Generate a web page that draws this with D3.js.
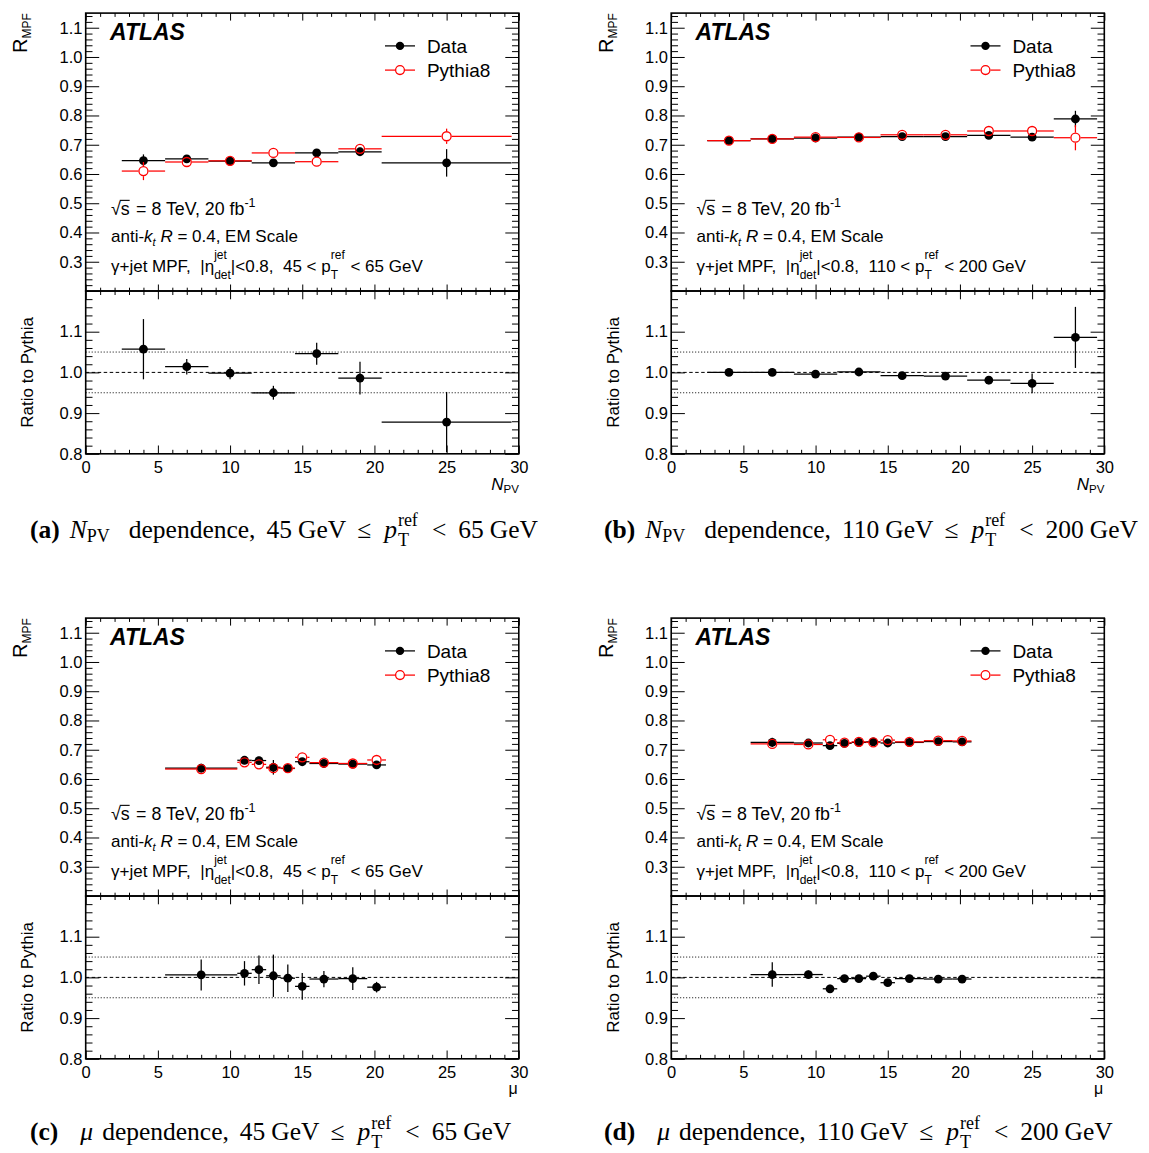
<!DOCTYPE html>
<html><head><meta charset="utf-8">
<script src="https://cdn.jsdelivr.net/npm/d3@7"></script>
<style>html,body{margin:0;padding:0;background:#fff;} svg{display:block;}</style>
</head><body>
<svg id="chart" width="1149" height="1153"></svg>
<script>
// ================= DATA =================
// Panel (a): N_PV dependence, 45 <= pT < 65 GeV
const npvCentersA = [4, 7, 10, 13, 16, 19, 25];
const npvLowA     = [2.5, 5.5, 8.5, 11.5, 14.5, 17.5, 20.5];
const npvHighA    = [5.5, 8.5, 11.5, 14.5, 17.5, 20.5, 29.5];
const dataA       = [0.646, 0.652, 0.644, 0.638, 0.672, 0.676, 0.638];
const dataErrA    = [0.021, 0.007, 0.006, 0.006, 0.007, 0.014, 0.047];
const mcA         = [0.610, 0.641, 0.645, 0.672, 0.642, 0.686, 0.729];
const mcErrA      = [0.031, 0.005, 0.004, 0.005, 0.005, 0.007, 0.026];
const ratioA      = [1.057, 1.014, 0.998, 0.950, 1.046, 0.986, 0.878];
const ratioErrA   = [0.074, 0.019, 0.015, 0.017, 0.027, 0.040, 0.074];

// Panel (b): N_PV dependence, 110 <= pT < 200 GeV
const npvCentersB = [4, 7, 10, 13, 16, 19, 22, 25, 28];
const npvLowB     = [2.5, 5.5, 8.5, 11.5, 14.5, 17.5, 20.5, 23.5, 26.5];
const npvHighB    = [5.5, 8.5, 11.5, 14.5, 17.5, 20.5, 23.5, 26.5, 29.5];
const dataB       = [0.714, 0.720, 0.723, 0.726, 0.728, 0.728, 0.732, 0.726, 0.788];
const dataErrB    = [0.004, 0.004, 0.004, 0.004, 0.004, 0.005, 0.006, 0.010, 0.028];
const mcB         = [0.714, 0.720, 0.726, 0.725, 0.734, 0.734, 0.747, 0.747, 0.724];
const mcErrB      = [0.003, 0.003, 0.003, 0.003, 0.004, 0.004, 0.005, 0.006, 0.043];
const ratioB      = [1.000, 1.000, 0.996, 1.001, 0.992, 0.991, 0.981, 0.973, 1.086];
const ratioErrB   = [0.006, 0.005, 0.005, 0.004, 0.005, 0.005, 0.010, 0.024, 0.075];

// Panel (c): mu dependence, 45 <= pT < 65 GeV
const muCentersC  = [8, 11, 12, 13, 14, 15, 16.5, 18.5, 20.15];
const muLowC      = [5.5, 10.5, 11.5, 12.5, 13.5, 14.5, 15.5, 17.5, 19.5];
const muHighC     = [10.5, 11.5, 12.5, 13.5, 14.5, 15.5, 17.5, 19.5, 20.8];
const dataC       = [0.637, 0.664, 0.663, 0.640, 0.636, 0.659, 0.653, 0.651, 0.648];
const dataErrC    = [0.015, 0.013, 0.013, 0.025, 0.011, 0.012, 0.006, 0.006, 0.006];
const mcC         = [0.634, 0.657, 0.650, 0.637, 0.637, 0.674, 0.656, 0.653, 0.665];
const mcErrC      = [0.008, 0.006, 0.006, 0.010, 0.006, 0.006, 0.004, 0.004, 0.004];
const ratioC      = [1.006, 1.010, 1.019, 1.004, 0.998, 0.978, 0.996, 0.997, 0.976];
const ratioErrC   = [0.038, 0.030, 0.035, 0.052, 0.034, 0.033, 0.020, 0.028, 0.013];

// Panel (d): mu dependence, 110 <= pT < 200 GeV
const muCentersD  = [7, 9.5, 11, 12, 13, 14, 15, 16.5, 18.5, 20.15];
const muLowD      = [5.5, 8.5, 10.5, 11.5, 12.5, 13.5, 14.5, 15.5, 17.5, 19.5];
const muHighD     = [8.5, 10.5, 11.5, 12.5, 13.5, 14.5, 15.5, 17.5, 19.5, 20.8];
const dataD       = [0.725, 0.723, 0.714, 0.722, 0.725, 0.727, 0.723, 0.725, 0.728, 0.727];
const dataErrD    = [0.016, 0.005, 0.005, 0.005, 0.004, 0.004, 0.004, 0.003, 0.003, 0.003];
const mcD         = [0.720, 0.718, 0.734, 0.724, 0.727, 0.725, 0.733, 0.727, 0.731, 0.730];
const mcErrD      = [0.006, 0.004, 0.004, 0.003, 0.003, 0.003, 0.003, 0.003, 0.003, 0.003];
const ratioD      = [1.007, 1.007, 0.972, 0.997, 0.997, 1.003, 0.987, 0.997, 0.996, 0.996];
const ratioErrD   = [0.030, 0.010, 0.010, 0.006, 0.005, 0.005, 0.005, 0.004, 0.004, 0.004];

// Axis ticks / labels
const xMajorTicks   = [0, 5, 10, 15, 20, 25, 30];
const xMinorTicks   = d3.range(0, 31).filter(v => v % 5 !== 0);
const yUpperMajor   = [0.2, 0.3, 0.4, 0.5, 0.6, 0.7, 0.8, 0.9, 1.0, 1.1];
const yUpperLabels  = [0.3, 0.4, 0.5, 0.6, 0.7, 0.8, 0.9, 1.0, 1.1];
const yUpperMinor   = d3.range(10, 58).filter(k => k % 5 !== 0).map(k => k / 50);
const yRatioMajor   = [0.8, 0.9, 1.0, 1.1, 1.2];
const yRatioLabels  = [0.8, 0.9, 1.0, 1.1];
const yRatioMinor   = d3.range(40, 61).filter(k => k % 5 !== 0).map(k => k / 50);
const ratioDotted   = [0.95, 1.05];
const ratioDashed   = [1.0];

const legendLabels  = ["Data", "Pythia8"];
const ptRanges      = [["45", "65"], ["110", "200"]];
const captionLetters = ["(a)", "(b)", "(c)", "(d)"];

// ================= LAYOUT =================
const SANS = "'Liberation Sans', Arimo, Helvetica, Arial, sans-serif";
const SERIF = "'Liberation Serif', 'Times New Roman', Times, serif";
const RED = "#ff0000";
const colX = [85.7, 671.2], rowY = [13.1, 618.1];
const PW = 433.1, UH = 277.9, LH = 162.8;
const svg = d3.select('#chart');
svg.append('rect').attr('width', 1149).attr('height', 1153).attr('fill', '#fff');

function rich(parent, x, y, parts, o = {}) {
  const fam = o.family || SANS, fs = o.size || 17, col = o.color || '#000';
  const g = parent.append('g');
  const inner = g.append('g');
  let cx = 0;
  const mk = (txt, px, py, p) => inner.append('text')
    .attr('x', px).attr('y', py)
    .attr('font-family', p.family || fam)
    .attr('font-size', p.size || fs)
    .attr('font-style', p.i ? 'italic' : 'normal')
    .attr('font-weight', p.b ? 'bold' : 'normal')
    .attr('fill', col)
    .attr('xml:space', 'preserve')
    .style('white-space', 'pre')
    .text(txt);
  parts.forEach(p => {
    if (p.stack) {
      const a = mk(p.sup, cx, p.supDy, p), b = mk(p.sub, cx, p.subDy, p);
      cx += Math.max(a.node().getComputedTextLength(), b.node().getComputedTextLength()) + (p.gap || 0);
    } else {
      const t = mk(p.t, cx, p.dy || 0, p);
      const w = t.node().getComputedTextLength();
      if (p.over) {
        const yy = -(p.size || fs) * 0.80;
        inner.append('line').attr('x1', cx - 1).attr('x2', cx + w)
          .attr('y1', yy).attr('y2', yy).attr('stroke', col).attr('stroke-width', 1.1);
      }
      cx += w + (p.gap || 0);
    }
  });
  const shift = o.anchor === 'end' ? -cx : o.anchor === 'middle' ? -cx / 2 : 0;
  inner.attr('transform', `translate(${shift},0)`);
  g.attr('transform', `translate(${x},${y})` + (o.rotate ? ` rotate(${o.rotate})` : ''));
  return cx;
}

function ax(g, axis, tx, ty, values, size, lab) {
  const a = g.append('g').attr('transform', `translate(${tx},${ty})`)
    .call(axis.tickValues(values).tickSize(size).tickPadding(lab ? lab.pad : 0)
      .tickFormat(lab ? lab.fmt : () => ''));
  a.select('.domain').remove();
  a.selectAll('line').attr('stroke', '#000').attr('stroke-width', 1);
  a.attr('font-family', SANS).attr('font-size', 16.5);
  a.selectAll('text').attr('fill', '#000');
  return a;
}

function series(g, x, y, lo, hi, c, v, e, color, open, r) {
  const gap = open ? r + 0.6 : 0;
  const idx = d3.range(c.length);
  const segs = [];
  idx.forEach(i => {
    const px = x(c[i]), py = y(v[i]);
    const xl = x(lo[i]), xh = x(hi[i]);
    const yt = y(v[i] + e[i]), yb = y(v[i] - e[i]);
    if (open) {
      segs.push([xl, py, px - gap, py], [px + gap, py, xh, py]);
      if (yt < py - gap) segs.push([px, yt, px, py - gap]);
      if (yb > py + gap) segs.push([px, py + gap, px, yb]);
    } else {
      segs.push([xl, py, xh, py], [px, yt, px, yb]);
    }
  });
  g.append('g').selectAll('line').data(segs).join('line')
    .attr('x1', d => d[0]).attr('y1', d => d[1]).attr('x2', d => d[2]).attr('y2', d => d[3])
    .attr('stroke', color).attr('stroke-width', 1.25);
  g.append('g').selectAll('circle').data(idx).join('circle')
    .attr('cx', i => x(c[i])).attr('cy', i => y(v[i])).attr('r', r)
    .attr('fill', open ? 'none' : color)
    .attr('stroke', color).attr('stroke-width', open ? 1.3 : 0);
}

function panel(col, row, P) {
  const L = colX[col], T = rowY[row], R = L + PW, S = T + UH, B = S + LH;
  const x = d3.scaleLinear().domain([0, 30]).range([L, R]);
  const yU = d3.scaleLinear().domain([0.2, 1.15]).range([S, T]);
  const yR = d3.scaleLinear().domain([0.8, 1.2]).range([B, S]);
  const g = svg.append('g');
  const f1 = d3.format('.1f');

  // ratio reference lines
  g.append('g').selectAll('line').data(ratioDotted).join('line')
    .attr('x1', L).attr('x2', R).attr('y1', d => yR(d)).attr('y2', d => yR(d))
    .attr('stroke', '#000').attr('stroke-width', 1).attr('stroke-dasharray', '1,2');
  g.append('g').selectAll('line').data(ratioDashed).join('line')
    .attr('x1', L).attr('x2', R).attr('y1', d => yR(d)).attr('y2', d => yR(d))
    .attr('stroke', '#000').attr('stroke-width', 1).attr('stroke-dasharray', '3.5,2.5');

  // upper ticks
  ax(g, d3.axisLeft(yU), L, 0, yUpperMajor, -13.5, { pad: 3.2, fmt: d => yUpperLabels.some(v => Math.abs(v - d) < 1e-6) ? f1(d) : '' });
  ax(g, d3.axisLeft(yU), L, 0, yUpperMinor, -6.8);
  ax(g, d3.axisRight(yU), R, 0, yUpperMajor, -13.5);
  ax(g, d3.axisRight(yU), R, 0, yUpperMinor, -6.8);
  ax(g, d3.axisTop(x), 0, T, xMajorTicks, -7.5);
  ax(g, d3.axisTop(x), 0, T, xMinorTicks, -3.8);
  ax(g, d3.axisBottom(x), 0, S, xMajorTicks, -6.5);
  ax(g, d3.axisBottom(x), 0, S, xMinorTicks, -3.3);
  // lower ticks
  ax(g, d3.axisLeft(yR), L, 0, yRatioMajor, -13.7, { pad: 3.2, fmt: d => yRatioLabels.some(v => Math.abs(v - d) < 1e-6) ? f1(d) : '' });
  ax(g, d3.axisLeft(yR), L, 0, yRatioMinor, -6.8);
  ax(g, d3.axisRight(yR), R, 0, yRatioMajor, -13.7);
  ax(g, d3.axisRight(yR), R, 0, yRatioMinor, -6.8);
  ax(g, d3.axisTop(x), 0, S, xMajorTicks, -8.3);
  ax(g, d3.axisTop(x), 0, S, xMinorTicks, -4);
  ax(g, d3.axisBottom(x), 0, B, xMajorTicks, -8.3, { pad: 7.8, fmt: d3.format('d') });
  ax(g, d3.axisBottom(x), 0, B, xMinorTicks, -4);

  // series
  series(g, x, yU, P.lo, P.hi, P.c, P.data, P.dataErr, '#000', false, 4.4);
  series(g, x, yU, P.lo, P.hi, P.c, P.mc, P.mcErr, RED, true, 4.5);
  series(g, x, yR, P.lo, P.hi, P.c, P.ratio, P.ratioErr, '#000', false, 4.4);

  // frames
  g.append('rect').attr('x', L).attr('y', T).attr('width', PW).attr('height', UH)
    .attr('fill', 'none').attr('stroke', '#000').attr('stroke-width', 1.6);
  g.append('rect').attr('x', L).attr('y', S).attr('width', PW).attr('height', LH)
    .attr('fill', 'none').attr('stroke', '#000').attr('stroke-width', 1.6);

  // ATLAS label
  g.append('text').attr('x', L + 24.3).attr('y', T + 27.3).attr('font-family', SANS)
    .attr('font-size', 23).attr('font-weight', 'bold').attr('font-style', 'italic').text('ATLAS');

  // legend
  const lx0 = L + 299.3, lx1 = L + 329.3, lm = L + 314.3, ly = [T + 32.8, T + 57];
  g.append('line').attr('x1', lx0).attr('x2', lx1).attr('y1', ly[0]).attr('y2', ly[0]).attr('stroke', '#000').attr('stroke-width', 1.25);
  g.append('circle').attr('cx', lm).attr('cy', ly[0]).attr('r', 4.2).attr('fill', '#000');
  g.append('line').attr('x1', lx0).attr('x2', lm - 5).attr('y1', ly[1]).attr('y2', ly[1]).attr('stroke', RED).attr('stroke-width', 1.25);
  g.append('line').attr('x1', lm + 5).attr('x2', lx1).attr('y1', ly[1]).attr('y2', ly[1]).attr('stroke', RED).attr('stroke-width', 1.25);
  g.append('circle').attr('cx', lm).attr('cy', ly[1]).attr('r', 4.4).attr('fill', 'none').attr('stroke', RED).attr('stroke-width', 1.3);
  legendLabels.forEach((t, i) => g.append('text').attr('x', L + 341.2).attr('y', ly[i] + 6.8)
    .attr('font-family', SANS).attr('font-size', 19).text(t));

  // info text
  const tx = L + 25.3;
  rich(g, tx, T + 201.5, [{ t: '√' }, { t: 's', over: true, gap: 1.5 }, { t: ' = 8 TeV, 20 fb' }, { t: '-1', size: 12.5, dy: -8 }], { size: 17.8 });
  rich(g, tx, T + 229, [{ t: 'anti-' }, { t: 'k', i: true }, { t: 't', i: true, size: 11, dy: 4 }, { t: ' ' }, { t: 'R', i: true }, { t: ' = 0.4, EM Scale' }], { size: 17 });
  rich(g, tx, T + 258.5, [
    { t: 'γ+jet MPF,  |η' },
    { stack: true, sup: 'jet', sub: 'det', size: 12, supDy: -13, subDy: 7.5 },
    { t: '|<0.8,  ' + P.pt[0] + ' < p' },
    { stack: true, sup: 'ref', sub: 'T', size: 12, supDy: -13, subDy: 7.5, gap: 1 },
    { t: ' < ' + P.pt[1] + ' GeV' }
  ], { size: 17 });

  // axis titles
  rich(g, L - 58.7, T, [{ t: 'R' }, { t: 'MPF', size: 12, dy: 4 }], { size: 20, anchor: 'end', rotate: -90 });
  rich(g, L - 52.5, S + LH / 2, [{ t: 'Ratio to Pythia' }], { size: 17, anchor: 'middle', rotate: -90 });
  if (P.var === 'npv') {
    rich(g, R, B + 35.7, [{ t: 'N', i: true }, { t: 'PV', size: 11.5, dy: 3.5 }], { size: 17, anchor: 'end' });
  } else {
    rich(g, R - 1, B + 35, [{ t: 'μ' }], { size: 16, anchor: 'end' });
  }

  // caption
  const capParts = [];
  if (P.var === 'npv') {
    capParts.push({ t: P.letter, b: true, gap: 10 }, { t: 'N', i: true }, { t: 'PV', size: 18, dy: 4, gap: 19 });
  } else {
    capParts.push({ t: P.letter, b: true, gap: 22 }, { t: 'μ', i: true, gap: 9 });
  }
  capParts.push({ t: 'dependence,', gap: 11 }, { t: P.pt[0], gap: 6 }, { t: 'GeV', gap: 11 },
    { t: '≤', gap: 13 }, { t: 'p', i: true, gap: 1 },
    { stack: true, sup: 'ref', sub: 'T', size: 18, supDy: -11.5, subDy: 8, gap: 14 },
    { t: '<', gap: 12 }, { t: P.pt[1], gap: 6 }, { t: 'GeV' });
  rich(svg, [30, 604][col], [537.5, 1140][row], capParts, { family: SERIF, size: 25.5 });
}

panel(0, 0, { c: npvCentersA, lo: npvLowA, hi: npvHighA, data: dataA, dataErr: dataErrA, mc: mcA, mcErr: mcErrA, ratio: ratioA, ratioErr: ratioErrA, pt: ptRanges[0], var: 'npv', letter: captionLetters[0] });
panel(1, 0, { c: npvCentersB, lo: npvLowB, hi: npvHighB, data: dataB, dataErr: dataErrB, mc: mcB, mcErr: mcErrB, ratio: ratioB, ratioErr: ratioErrB, pt: ptRanges[1], var: 'npv', letter: captionLetters[1] });
panel(0, 1, { c: muCentersC, lo: muLowC, hi: muHighC, data: dataC, dataErr: dataErrC, mc: mcC, mcErr: mcErrC, ratio: ratioC, ratioErr: ratioErrC, pt: ptRanges[0], var: 'mu', letter: captionLetters[2] });
panel(1, 1, { c: muCentersD, lo: muLowD, hi: muHighD, data: dataD, dataErr: dataErrD, mc: mcD, mcErr: mcErrD, ratio: ratioD, ratioErr: ratioErrD, pt: ptRanges[1], var: 'mu', letter: captionLetters[3] });
</script></body></html>
